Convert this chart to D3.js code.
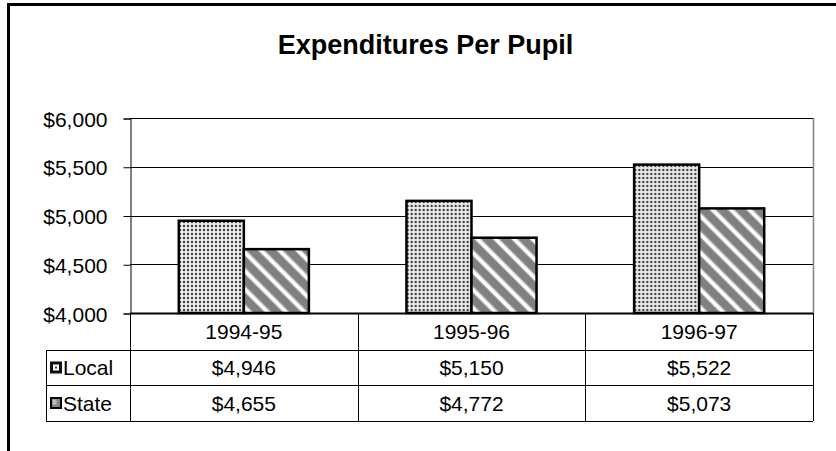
<!DOCTYPE html>
<head>
<meta charset="UTF-8">
<script src="https://d3js.org/d3.v7.min.js"></script>
<style>
  body { margin: 0; background: #fff; }
  text { font-family: Arial, "Liberation Sans", Helvetica, sans-serif; fill: #000; }
</style>
</head>
<body>
<div id="chart"></div>
<script>
  var categories = ["1994-95", "1995-96", "1996-97"];
  var seriesNames = ["Local", "State"];
  var localValues = [4946, 5150, 5522];
  var stateValues = [4655, 4772, 5073];
  var yTicks = [4000, 4500, 5000, 5500, 6000];

  var width = 836, height = 451;
  // plot area edges (don't name these top/left: window.top is read-only)
  var plotL = 130, plotR = 813, plotT = 118, plotB = 313;
  var fontSize = "21px";

  var svg = d3.select("#chart").append("svg")
      .attr("width", width)
      .attr("height", height);

  var defs = svg.append("defs");

  // dotted fill for Local
  var dots = defs.append("pattern")
      .attr("id", "dots")
      .attr("patternUnits", "userSpaceOnUse")
      .attr("width", 4).attr("height", 4);
  dots.append("rect").attr("width", 4).attr("height", 4).attr("fill", "#eeeeee");
  dots.append("circle").attr("cx", 2).attr("cy", 2).attr("r", 1.2).attr("fill", "#3c3c3c");

  // diagonal stripes for State (running top-left to bottom-right)
  var stripes = defs.append("pattern")
      .attr("id", "stripes")
      .attr("patternUnits", "userSpaceOnUse")
      .attr("width", 13).attr("height", 13)
      .attr("patternTransform", "rotate(45)");
  stripes.append("rect").attr("width", 13).attr("height", 13).attr("fill", "#808080");
  stripes.append("rect").attr("x", 0).attr("y", 4.5).attr("width", 13).attr("height", 3.5).attr("fill", "#ffffff");
  stripes.append("rect").attr("x", 0).attr("y", 3.5).attr("width", 13).attr("height", 5.5).attr("fill", "#ffffff").attr("opacity", 0.4);

  // outer chart frame (clipped at right/bottom)
  svg.append("path")
      .attr("d", "M8.5,451 L8.5,4.5 L836,4.5")
      .attr("fill", "none")
      .attr("stroke", "#000")
      .attr("stroke-width", 3);

  svg.append("text")
      .attr("x", 425.5).attr("y", 54)
      .attr("text-anchor", "middle")
      .style("font-size", "27px")
      .style("font-weight", "bold")
      .text("Expenditures Per Pupil");

  var x = d3.scaleBand().domain(categories).range([plotL, plotR]).padding(0);
  // Excel-style gap width of 150%: two bars plus 1.5 bar widths of gap per category
  var barW = x.bandwidth() / 3.5;
  var gap = barW * 1.5 / 2;
  var x1 = d3.scaleBand().domain(seriesNames).range([gap, x.bandwidth() - gap]).padding(0);
  var y = d3.scaleLinear().domain([4000, 6000]).range([plotB, plotT]);

  // gridlines
  svg.append("g").selectAll("line")
      .data(yTicks)
      .enter().append("line")
      .attr("x1", plotL).attr("x2", plotR)
      .attr("y1", function(d) { return Math.round(y(d)) + 0.5; })
      .attr("y2", function(d) { return Math.round(y(d)) + 0.5; })
      .attr("stroke", "#000").attr("stroke-width", 1);

  // plot frame right side (gray)
  svg.append("line")
      .attr("x1", plotR + 0.5).attr("x2", plotR + 0.5)
      .attr("y1", plotT).attr("y2", plotB)
      .attr("stroke", "#808080").attr("stroke-width", 1.5);

  // y axis
  var yAxis = d3.axisLeft(y)
      .tickValues(yTicks)
      .tickSize(7)
      .tickPadding(16)
      .tickFormat(function(d) { return "$" + d3.format(",")(d); });
  var ya = svg.append("g")
      .attr("transform", "translate(" + (plotL + 0.5) + ",0.5)")
      .call(yAxis);
  ya.select(".domain").attr("stroke", "#000");
  ya.selectAll("line").attr("stroke", "#000");
  ya.selectAll("text")
      .style("font-size", fontSize)
      .style("font-family", "Arial, 'Liberation Sans', sans-serif")
      .attr("fill", "#000")
      .attr("dy", "0.36em");

  // bars
  var rows = categories.map(function(c, i) {
    return { cat: c, values: [
      { name: "Local", value: localValues[i] },
      { name: "State", value: stateValues[i] }
    ] };
  });

  var groups = svg.append("g").selectAll("g")
      .data(rows)
      .enter().append("g")
      .attr("transform", function(d) { return "translate(" + x(d.cat) + ",0)"; });

  groups.selectAll("rect")
      .data(function(d) { return d.values; })
      .enter().append("rect")
      .attr("x", function(d) { return x1(d.name); })
      .attr("width", x1.bandwidth())
      .attr("y", function(d) { return y(d.value); })
      .attr("height", function(d) { return y(4000) - y(d.value); })
      .attr("fill", function(d) { return d.name == "Local" ? "url(#dots)" : "url(#stripes)"; })
      .attr("stroke", "#000")
      .attr("stroke-width", 2.5);

  // baseline on top of bars
  svg.append("line")
      .attr("x1", plotL).attr("x2", plotR)
      .attr("y1", plotB + 0.5).attr("y2", plotB + 0.5)
      .attr("stroke", "#000").attr("stroke-width", 2);

  // data table
  var rowY = [plotB, 350, 385, 421];
  var tableLeft = 46;
  var table = svg.append("g");

  table.selectAll("line.h")
      .data([350, 385, 421])
      .enter().append("line")
      .attr("x1", tableLeft).attr("x2", plotR)
      .attr("y1", function(d) { return d + 0.5; })
      .attr("y2", function(d) { return d + 0.5; })
      .attr("stroke", "#000");

  var vx = [plotL].concat(categories.map(function(c) { return x(c) + x.bandwidth(); }));
  table.selectAll("line.v")
      .data(vx)
      .enter().append("line")
      .attr("x1", function(d) { return Math.round(d) + 0.5; })
      .attr("x2", function(d) { return Math.round(d) + 0.5; })
      .attr("y1", plotB).attr("y2", 421)
      .attr("stroke", "#000");

  table.append("line")
      .attr("x1", tableLeft + 0.5).attr("x2", tableLeft + 0.5)
      .attr("y1", 350).attr("y2", 421)
      .attr("stroke", "#000");

  table.selectAll("text.cat")
      .data(categories)
      .enter().append("text")
      .attr("x", function(d) { return x(d) + x.bandwidth() / 2; })
      .attr("y", (rowY[0] + rowY[1]) / 2 + 7.5)
      .attr("text-anchor", "middle")
      .style("font-size", fontSize)
      .text(function(d) { return d; });

  var fmt = function(v) { return "$" + d3.format(",")(v); };
  [localValues, stateValues].forEach(function(vals, r) {
    var cy = (rowY[r + 1] + rowY[r + 2]) / 2 + 7.5;
    table.selectAll("text.v" + r)
        .data(vals)
        .enter().append("text")
        .attr("x", function(d, i) { return x(categories[i]) + x.bandwidth() / 2; })
        .attr("y", cy)
        .attr("text-anchor", "middle")
        .style("font-size", fontSize)
        .text(fmt);

    // legend key + name
    var ky = (rowY[r + 1] + rowY[r + 2]) / 2 - 6;
    if (r == 0) {
      table.append("rect").attr("x", 50).attr("y", ky).attr("width", 12).attr("height", 12)
          .attr("fill", "#111");
      table.append("rect").attr("x", 53).attr("y", ky + 3).attr("width", 6).attr("height", 6)
          .attr("fill", "#fff");
      table.append("rect").attr("x", 55).attr("y", ky + 5).attr("width", 2).attr("height", 2)
          .attr("fill", "#444");
    } else {
      table.append("rect").attr("x", 51).attr("y", ky + 1).attr("width", 10).attr("height", 10)
          .attr("fill", "#888").attr("stroke", "#000").attr("stroke-width", 2);
      table.append("rect").attr("x", 52.5).attr("y", ky + 2.5).attr("width", 4).attr("height", 5)
          .attr("fill", "#bbb");
    }
    table.append("text")
        .attr("x", 63).attr("y", cy)
        .style("font-size", fontSize)
        .text(seriesNames[r]);
  });
</script>
</body>
